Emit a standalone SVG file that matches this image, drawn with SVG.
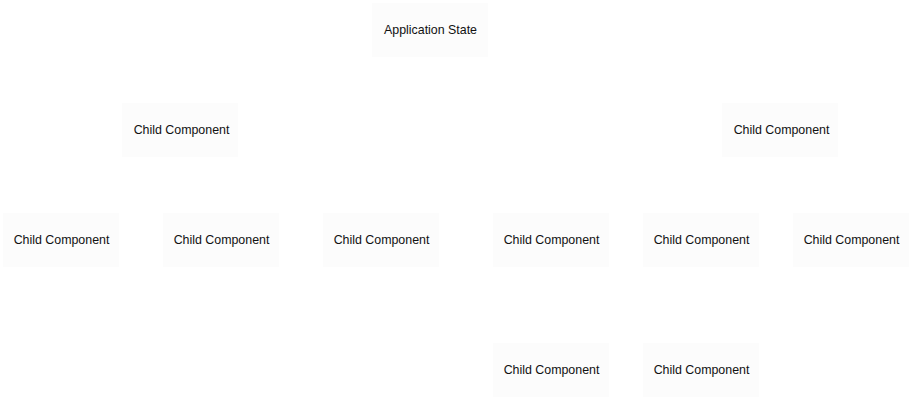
<svg xmlns="http://www.w3.org/2000/svg" width="914" height="406" viewBox="0 0 914 406">
<style>
.box{fill:#fcfcfc;stroke:none}
.lbl{font-family:"Liberation Sans",Arial,sans-serif;font-size:12.4px;fill:#111111;text-anchor:middle}
</style>
<rect width="914" height="406" fill="#ffffff"/>
<g id="connectors"></g>
<g id="app-state"><rect class="box" x="372" y="3" width="116" height="54"/><text class="lbl" x="430.5" y="33.5">Application State</text></g>
<g id="child-l1"><rect class="box" x="122" y="103" width="116" height="54"/><text class="lbl" x="181.5" y="133.5">Child Component</text></g>
<g id="child-r1"><rect class="box" x="722" y="103" width="116" height="54"/><text class="lbl" x="781.5" y="133.5">Child Component</text></g>
<g id="child-a"><rect class="box" x="3" y="213" width="116" height="54"/><text class="lbl" x="61.5" y="243.5">Child Component</text></g>
<g id="child-b"><rect class="box" x="163" y="213" width="116" height="54"/><text class="lbl" x="221.5" y="243.5">Child Component</text></g>
<g id="child-c"><rect class="box" x="323" y="213" width="116" height="54"/><text class="lbl" x="381.5" y="243.5">Child Component</text></g>
<g id="child-d"><rect class="box" x="493" y="213" width="116" height="54"/><text class="lbl" x="551.5" y="243.5">Child Component</text></g>
<g id="child-e"><rect class="box" x="643" y="213" width="116" height="54"/><text class="lbl" x="701.5" y="243.5">Child Component</text></g>
<g id="child-f"><rect class="box" x="793" y="213" width="116" height="54"/><text class="lbl" x="851.5" y="243.5">Child Component</text></g>
<g id="child-g"><rect class="box" x="493" y="343" width="116" height="54"/><text class="lbl" x="551.5" y="373.5">Child Component</text></g>
<g id="child-h"><rect class="box" x="643" y="343" width="116" height="54"/><text class="lbl" x="701.5" y="373.5">Child Component</text></g>
</svg>
